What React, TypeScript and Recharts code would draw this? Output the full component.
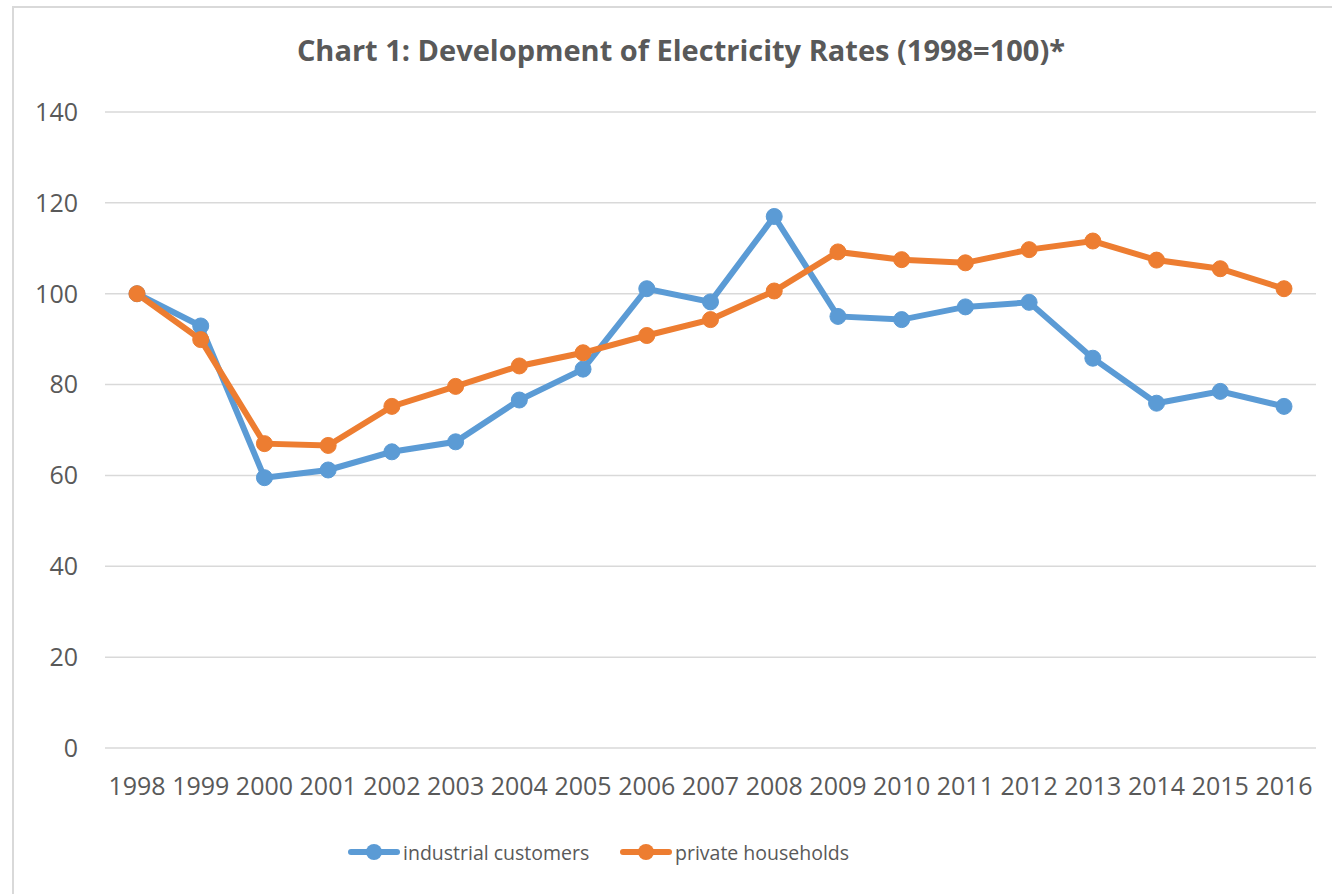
import React from 'react';
import { LineChart, Line, XAxis, YAxis, CartesianGrid } from 'recharts';

const years = ['1998','1999','2000','2001','2002','2003','2004','2005','2006','2007','2008','2009','2010','2011','2012','2013','2014','2015','2016'];
const industrial = [100, 92.9, 59.5, 61.2, 65.2, 67.4, 76.6, 83.4, 101.1, 98.2, 117, 95, 94.3, 97.1, 98.1, 85.8, 75.9, 78.5, 75.2];
const households = [100, 89.9, 67, 66.6, 75.2, 79.6, 84.1, 87, 90.8, 94.3, 100.6, 109.2, 107.5, 106.8, 109.7, 111.6, 107.4, 105.5, 101.1];
const yTicks = [0, 20, 40, 60, 80, 100, 120, 140];
const seriesNames = ['industrial customers', 'private households'];
const colors = ['#5B9BD5', '#ED7D31'];

const data = years.map((y, i) => ({ year: y, industrial: industrial[i], households: households[i] }));

const FONT = '"Open Sans", sans-serif';
const TXT = '#595959';
const legendX = [348, 620];

export default function App() {
  return (
    <div style={{ position: 'absolute', left: 0, top: 0, width: 1332, height: 894, overflow: 'hidden', background: '#fff' }}>
      <div style={{ position: 'absolute', left: 12, top: 6, width: 1400, height: 1000, border: '2px solid #d9d9d9', boxSizing: 'border-box' }} />
      <div style={{ position: 'absolute', left: 0, top: 30, width: 1362, textAlign: 'center', fontFamily: FONT, fontWeight: 700, fontSize: 29, color: TXT, lineHeight: '40px' }}>
        Chart 1: Development of Electricity Rates (1998=100)*
      </div>
      <div style={{ position: 'absolute', left: 0, top: 0 }}>
        <LineChart width={1332} height={894} data={data} margin={{ top: 112, right: 16, bottom: 116, left: 0 }}>
          <CartesianGrid vertical={false} stroke="#d9d9d9" strokeWidth={1.5} />
          <XAxis dataKey="year" height={30} axisLine={false} tickLine={false} tickSize={0} tickMargin={29} padding={{ left: 32, right: 32 }} interval={0}
            tick={{ fill: TXT, fontSize: 25, fontFamily: FONT }} />
          <YAxis domain={[0, 140]} ticks={yTicks} width={105} axisLine={false} tickLine={false} tickSize={0} tickMargin={27}
            tick={{ fill: TXT, fontSize: 25, fontFamily: FONT }} />
          <Line dataKey="industrial" name={seriesNames[0]} stroke={colors[0]} strokeWidth={6} isAnimationActive={false}
            dot={{ r: 8, fill: colors[0], stroke: colors[0], strokeWidth: 1 }} activeDot={false} />
          <Line dataKey="households" name={seriesNames[1]} stroke={colors[1]} strokeWidth={6} isAnimationActive={false}
            dot={{ r: 8, fill: colors[1], stroke: colors[1], strokeWidth: 1 }} activeDot={false} />
        </LineChart>
      </div>
      {seriesNames.map((n, i) => (
        <div key={n} style={{ position: 'absolute', left: legendX[i], top: 838, height: 28, display: 'flex', alignItems: 'center', fontFamily: FONT, fontSize: 19.5, color: TXT }}>
          <svg width={52} height={20} style={{ marginRight: 3 }}>
            <line x1={3} y1={10} x2={49} y2={10} stroke={colors[i]} strokeWidth={6} strokeLinecap="round" />
            <circle cx={26} cy={10} r={8} fill={colors[i]} />
          </svg>
          <span>{n}</span>
        </div>
      ))}
    </div>
  );
}
